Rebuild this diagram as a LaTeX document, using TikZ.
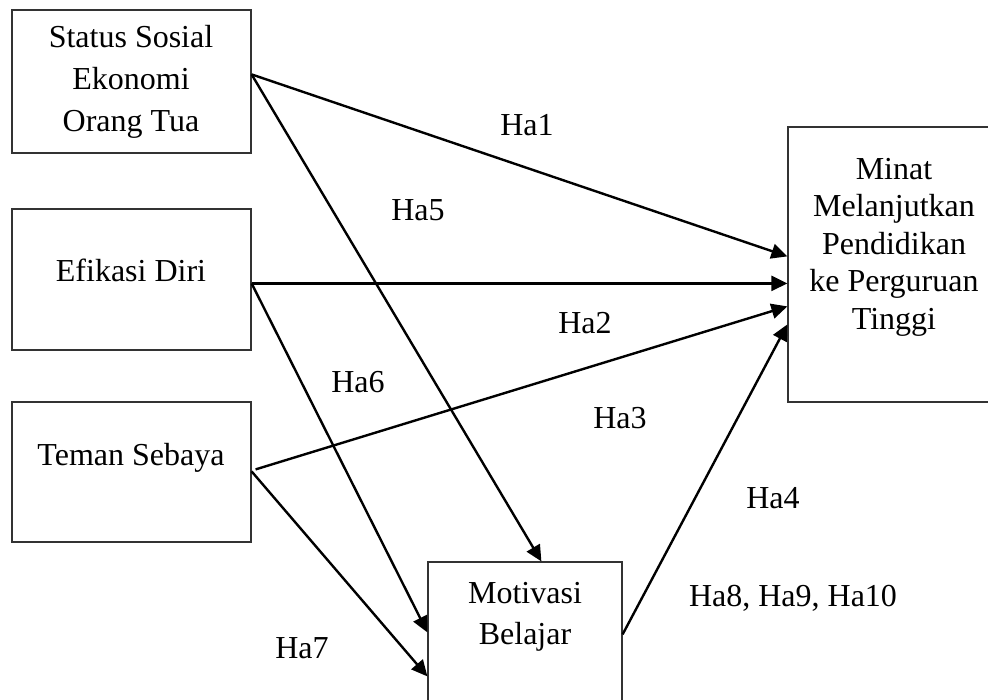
\documentclass[tikz,border=0pt]{standalone}
\usepackage{fontspec}
\setmainfont{Liberation Serif}
\usetikzlibrary{arrows.meta,calc}
\begin{document}
\begin{tikzpicture}[x=1pt,y=-1pt,
 box/.style={draw=black!80, line width=1.2pt, inner sep=0pt},
 lab/.style={font=\fontsize{32}{40}\selectfont, inner sep=0pt},
 txt/.style={align=center, font=\fontsize{32}{42}\selectfont, inner sep=0pt},
 arr/.style={line width=2.4pt, -{Triangle[length=16pt,width=15pt]}}]
\useasboundingbox (0,0) rectangle (988,700);
% boxes
\node[box, minimum width=239pt, minimum height=143pt] (s) at (131.5,81.5) {};
\node[box, minimum width=239pt, minimum height=141pt] (e) at (131.5,279.5) {};
\node[box, minimum width=239pt, minimum height=140pt] (t) at (131.5,472) {};
\node[box, minimum width=212pt, minimum height=275pt] (m) at (894,264.5) {};
\node[box, minimum width=194pt, minimum height=148pt] (b) at (525,636) {};
% texts
\node[txt] at (131,82) {Status Sosial\\Ekonomi\\Orang Tua};
\node[txt] at (131,270) {Efikasi Diri};
\node[txt] at (131,458) {Teman Sebaya};
\node[txt, font=\fontsize{32}{37.5}\selectfont] at (894,247) {Minat\\Melanjutkan\\Pendidikan\\ke Perguruan\\Tinggi};
\node[txt, font=\fontsize{32}{41}\selectfont] at (525,617) {Motivasi\\Belajar};
% anchor points
\coordinate (s-out) at ($(s.north east)+(0,65)$);
\coordinate (e-out) at ($(e.north east)+(0,75)$);
\coordinate (t-out) at ($(t.north east)+(4,68)$);
\coordinate (t-out2) at ($(t.north east)+(0,70)$);
\coordinate (m-in1) at ($(m.north west)+(0,130)$);
\coordinate (m-in2) at ($(m.north west)+(0,157)$);
\coordinate (m-in3) at ($(m.north west)+(0,180)$);
\coordinate (m-in4) at ($(m.north west)+(0,198)$);
\coordinate (b-in1) at ($(b.north west)+(114,0)$);
\coordinate (b-in2) at ($(b.north west)+(0,71)$);
\coordinate (b-in3) at ($(b.north west)+(0,115)$);
\coordinate (b-out) at ($(b.north east)+(0,73)$);
% arrows
\draw[arr] (s-out) -- (m-in1);
\draw[arr] (e-out) -- (m-in2);
\draw[arr] (t-out) -- (m-in3);
\draw[arr] (b-out) -- (m-in4);
\draw[arr] (s-out) -- (b-in1);
\draw[arr] (e-out) -- (b-in2);
\draw[arr] (t-out2) -- (b-in3);
% labels
\node[lab] (h1) at (527,125) {Ha1};
\node[lab] (h5) at (418,210) {Ha5};
\node[lab] (h2) at (585,323) {Ha2};
\node[lab] (h6) at (358,382) {Ha6};
\node[lab] (h3) at (620,418) {Ha3};
\node[lab] (h4) at (773,498) {Ha4};
\node[lab] (h8) at (793,598) {Ha8, Ha9, Ha10};
\node[lab] (h7) at (302,648) {Ha7};
\end{tikzpicture}
\end{document}
